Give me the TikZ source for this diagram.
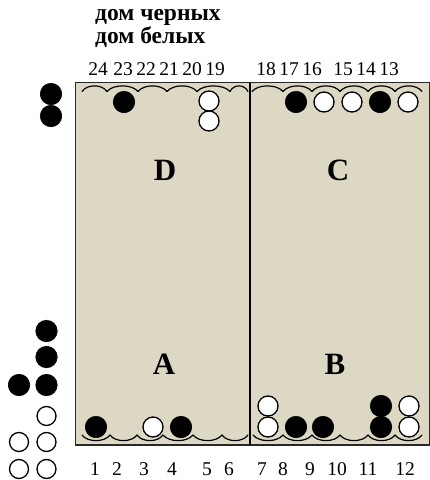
\documentclass[tikz,border=0pt]{standalone}
\usepackage{fontspec}
\setmainfont{Liberation Serif}
\definecolor{boardfill}{RGB}{221,216,196}
\definecolor{edge}{RGB}{40,40,40}
\begin{document}
\begin{tikzpicture}[x=1pt,y=-1pt,
  blk/.style={circle,fill=black,draw=black,line width=0.6pt,minimum size=21.5pt,inner sep=0pt},
  wht/.style={circle,fill=white,draw=black,line width=1.3pt,minimum size=20pt,inner sep=0pt},
  num/.style={font=\fontsize{19.5}{20}\selectfont,inner sep=0pt,anchor=base},
  quad/.style={font=\fontsize{31}{31}\selectfont\bfseries,inner sep=0pt},
  ttl/.style={font=\fontsize{23.5}{18}\selectfont\bfseries,inner sep=0pt,align=left,anchor=base west},
  wave/.style={line width=1.2pt,line cap=round}]
\useasboundingbox (0,0) rectangle (430,480);
% board
\draw[fill=boardfill,draw=edge,line width=1.5pt] (75.5,82.5) rectangle (429.3,445);
\draw[line width=1.2pt] (250,82.5) -- (250,445);
% waves top
\foreach \a/\b in {82/107,107/138,138/167,167/197,197/230,230/248,252/283,283/312,312/340,340/368,368/395,395/422}
  \draw[wave] (\a,91.5) .. controls ({\a+0.2*(\b-\a)},84) and ({\b-0.2*(\b-\a)},84) .. (\b,91.5);
% waves bottom
\foreach \a/\b in {82/110,110/137,137/163,163/193,193/222,222/248,253/283,283/312,312/340,340/368,368/395,395/422}
  \draw[wave] (\a,435) .. controls ({\a+0.2*(\b-\a)},442.5) and ({\b-0.2*(\b-\a)},442.5) .. (\b,435);
% titles
\node[ttl] (ttl) at (95,43) {дом черных\\дом белых};
% top numbers
\foreach \n/\x in {24/98,23/123,22/146,21/169,20/192,19/215,18/266,17/289,16/312,15/343,14/366,13/389}
  \node[num] (n\n) at (\x,75.5) {\n};
% bottom numbers
\foreach \n/\x in {1/95,2/117,3/144,4/172,5/207,6/229,7/262,8/283,9/310,10/337,11/368,12/405}
  \node[num] (n\n) at (\x,475) {\n};
% quadrant letters
\node[quad] (qD) at (165,170) {D};
\node[quad] (qC) at (338,170) {C};
\node[quad] (qA) at (164,364) {A};
\node[quad] (qB) at (335,364) {B};
% top checkers
\node[blk] (c23) at (124,102) {};
\node[wht] (c20a) at (209,101) {};
\node[wht] (c20b) at (209,121) {};
\node[blk] (c17) at (296,102) {};
\node[wht] (c16) at (324,102) {};
\node[wht] (c15) at (352,102) {};
\node[blk] (c14) at (380,102) {};
\node[wht] (c13) at (408,102) {};
% bottom checkers
\node[blk] (c1) at (96,427) {};
\node[wht] (c3) at (153,427) {};
\node[blk] (c4) at (181,427) {};
\node[wht] (c7a) at (268,427) {};
\node[wht] (c7b) at (268,406) {};
\node[blk] (c8) at (296,427) {};
\node[blk] (c9) at (323,427) {};
\node[blk] (c11a) at (381,427) {};
\node[blk] (c11b) at (381,406) {};
\node[wht] (c12a) at (409,427) {};
\node[wht] (c12b) at (409,406) {};
% off-board checkers
\node[blk] (o1) at (51,94) {};
\node[blk] (o2) at (51,116) {};
\node[blk] (o3) at (46.5,331) {};
\node[blk] (o4) at (46.5,357) {};
\node[blk] (o5) at (46.5,385) {};
\node[blk] (o6) at (19,385) {};
\node[wht,minimum size=19pt] (o7) at (46.5,416) {};
\node[wht,minimum size=19pt] (o8) at (46.5,442) {};
\node[wht,minimum size=19pt] (o9) at (19,442) {};
\node[wht,minimum size=19pt] (o10) at (46.5,469) {};
\node[wht,minimum size=19pt] (o11) at (19,469) {};
\end{tikzpicture}
\end{document}
